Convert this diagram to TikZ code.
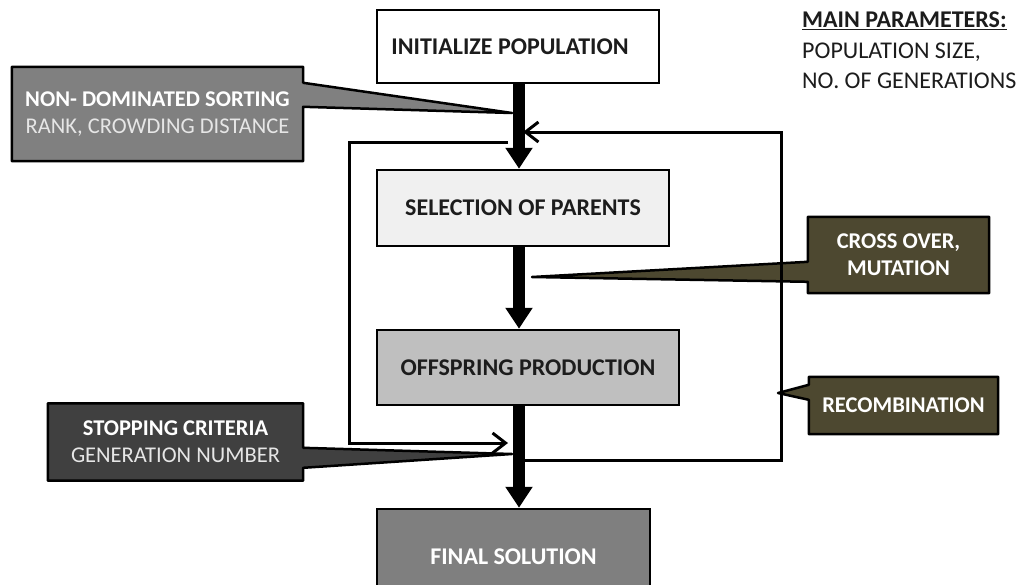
\documentclass[tikz,border=0pt]{standalone}
\usepackage{fontspec}
\setmainfont{Carlito}
\usetikzlibrary{arrows.meta,calc,backgrounds}

\definecolor{selfill}{HTML}{F0F0F0}
\definecolor{offfill}{HTML}{BFBFBF}
\definecolor{finfill}{HTML}{7F7F7F}
\definecolor{ndsfill}{HTML}{808080}
\definecolor{stopfill}{HTML}{404040}
\definecolor{olivefill}{HTML}{4D4830}
\definecolor{inktext}{HTML}{1C1C1C}
\definecolor{softwhite}{HTML}{E6E6E6}

\tikzset{
  stagebox/.style={draw=black, line width=2.5pt, inner sep=0pt, text=inktext,
    font=\fontsize{24}{27}\selectfont\bfseries},
  calltext/.style={inner sep=0pt, align=center, text=white,
    font=\fontsize{22.5}{27}\selectfont},
  callbold/.style={calltext, font=\fontsize{22.5}{27}\selectfont\bfseries},
  callshape/.style={draw=black, line width=2.5pt, line join=round},
  stemarrow/.style={line width=12pt, -{Triangle[width=26pt,length=21pt]}},
  loopline/.style={line width=3pt, -{Straight Barb[length=13pt,width=20pt]}},
}

\begin{document}
\begin{tikzpicture}[x=1pt, y=-1pt]
\useasboundingbox (0,0) rectangle (1025,584);

% main stages
\node[stagebox, fill=white, minimum width=282pt, minimum height=73pt] (init) at (518,46.5) {\hspace*{-16pt}INITIALIZE POPULATION};
\node[stagebox, fill=selfill, minimum width=292pt, minimum height=76pt] (sel) at (523,208) {SELECTION OF PARENTS};
\node[stagebox, fill=offfill, minimum width=302pt, minimum height=75pt] (off) at (528,367.5) {OFFSPRING PRODUCTION};
\node[stagebox, fill=finfill, text=white, minimum width=273pt, minimum height=96pt] (fin) at (513.5,557) {FINAL SOLUTION};

% callout texts
\node[calltext, minimum width=291pt, minimum height=94pt] (nds) at (157.5,114)
  {\textbf{NON- DOMINATED SORTING}\\{\color{softwhite}RANK, CROWDING DISTANCE}};
\node[calltext, minimum width=255pt, minimum height=77pt] (stop) at (175.5,442)
  {\textbf{STOPPING CRITERIA}\\{\color{softwhite}GENERATION NUMBER}};
\node[callbold, minimum width=181pt, minimum height=76pt] (cross) at (898.5,255)
  {CROSS OVER,\\MUTATION};
\node[callbold, minimum width=189pt, minimum height=57pt] (recomb) at (903.5,405.5)
  {RECOMBINATION};

% callout pointer tips
\coordinate (ndstip) at (512,113);
\coordinate (stoptip) at (512,454);
\coordinate (crosstip) at (532,277);
\coordinate (recombtip) at (778,393);

% white page, then callout bodies with their pointers
\begin{scope}[on background layer]
\fill[white] (0,0) rectangle (1025,584);
\filldraw[callshape, fill=ndsfill] (nds.north west) -- (nds.north east) -- ($(nds.north east)+(0,16)$)
  -- (ndstip) -- ($(nds.north east)+(0,40)$) -- (nds.south east) -- (nds.south west) -- cycle;
\filldraw[callshape, fill=stopfill] (stop.north west) -- (stop.north east) -- ($(stop.north east)+(0,44.5)$)
  -- (stoptip) -- ($(stop.north east)+(0,64.5)$) -- (stop.south east) -- (stop.south west) -- cycle;
\filldraw[callshape, fill=olivefill] (cross.north east) -- (cross.north west) -- ($(cross.north west)+(0,45)$)
  -- (crosstip) -- ($(cross.north west)+(0,65)$) -- (cross.south west) -- (cross.south east) -- cycle;
\filldraw[callshape, fill=olivefill] (recomb.north east) -- (recomb.north west) -- ($(recomb.north west)+(0,8)$)
  -- (recombtip) -- ($(recomb.north west)+(0,23)$) -- (recomb.south west) -- (recomb.south east) -- cycle;
\end{scope}

% feedback loops
\coordinate (lstart) at (508,142);
\coordinate (lcorner) at (349,443);
\coordinate (lend) at (508,443);
\draw[loopline] (lstart) -| (lcorner) -- (lend);

\coordinate (rstart) at (519,460);
\coordinate (rturn) at (781,132);
\coordinate (rend) at (523,132);
\draw[loopline] (rstart) -| (rturn) -- (rend);

% main flow
\coordinate (stemx) at (519,0);
\draw[stemarrow] (init.south -| stemx) -- (sel.north -| stemx);
\draw[stemarrow] (sel.south -| stemx) -- (off.north -| stemx);
\draw[stemarrow] (off.south -| stemx) -- (fin.north -| stemx);

% parameter note
\node[anchor=north west, align=left, inner sep=0pt, text=inktext,
  font=\fontsize{24}{30.5}\selectfont] (params) at (802,12)
  {\textbf{\underline{MAIN PARAMETERS:}}\\POPULATION SIZE,\\NO. OF GENERATIONS};
\end{tikzpicture}
\end{document}
